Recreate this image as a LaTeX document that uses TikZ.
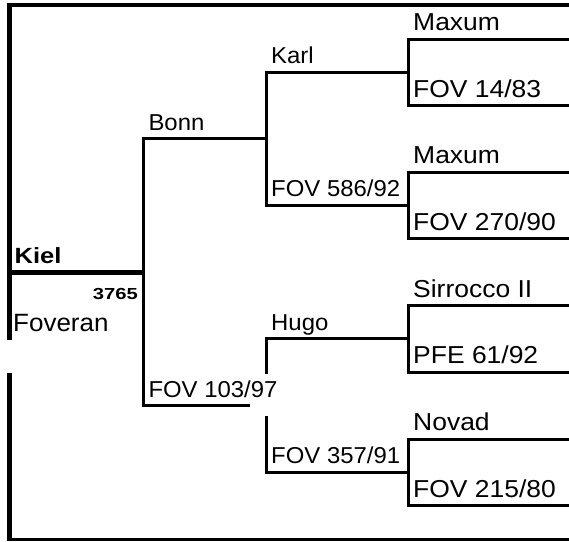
\documentclass[tikz,border=0pt]{standalone}
\usepackage{fontspec}
\setmainfont[FakeStretch=1.04]{Liberation Sans}
\newfontfamily\farfont[FakeStretch=1.08]{Liberation Sans}
\newfontfamily\kielfont[FakeStretch=1.16]{Liberation Sans}
\newfontfamily\numfont[FakeStretch=1.26]{Liberation Sans}
\usetikzlibrary{calc}

\tikzset{
  bar/.style={line width=3pt, line join=miter},
  heavy/.style={line width=4.7pt, line join=miter},
  lbl/.style={anchor=base west, inner sep=0pt, xshift=5pt, yshift=8.5pt,
    font=\fontsize{23}{27}\selectfont},
  lblfour/.style={lbl, font=\farfont\fontsize{24.5}{28}\selectfont}
}

\begin{document}
\begin{tikzpicture}[x=1pt, y=-1pt]
  \useasboundingbox (0,0) rectangle (569,541);

  % right edge of the chart
  \coordinate (edge) at (569,0);

  % start points of each line, one per horse
  \coordinate (kiel) at (9.5,272.2);
  \coordinate (bonn) at (143.3,138.7);
  \coordinate (fov103) at (143.3,405.6);
  \coordinate (karl) at (266,72.2);
  \coordinate (fov586) at (266,205.2);
  \coordinate (hugo) at (266,338.8);
  \coordinate (fov357) at (266,472.4);
  \coordinate (maxumA) at (408,39);
  \coordinate (fov14) at (408,105.5);
  \coordinate (maxumB) at (408,172);
  \coordinate (fov270) at (408,238.5);
  \coordinate (sirrocco) at (408,305.5);
  \coordinate (pfe61) at (408,372);
  \coordinate (novad) at (408,439);
  \coordinate (fov215) at (408,505.8);

  % outer frame
  \draw[heavy] (569,5) -- (9.5,5) -- (9.5,340);
  \draw[heavy] (9.5,373) -- (9.5,541);
  \draw[line width=2.5pt] (7,539.7) -- (569,539.7);

  % first generation
  \draw[heavy] (kiel) -- (kiel -| bonn);
  \draw[bar] (bonn -| karl) -- (bonn) -- (fov103) -- (fov103 -| karl);

  % second generation
  \draw[bar] (karl -| maxumA) -- (karl) -- (fov586) -- (fov586 -| maxumA);
  \draw[bar] (hugo -| maxumA) -- (hugo) -- (fov357) -- (fov357 -| maxumA);

  % third generation
  \draw[bar] (maxumA -| edge) -- (maxumA) -- (fov14) -- (fov14 -| edge);
  \draw[bar] (maxumB -| edge) -- (maxumB) -- (fov270) -- (fov270 -| edge);
  \draw[bar] (sirrocco -| edge) -- (sirrocco) -- (pfe61) -- (pfe61 -| edge);
  \draw[bar] (novad -| edge) -- (novad) -- (fov215) -- (fov215 -| edge);

  % the box of the lower Bonn label hides the line ends
  \fill[white] (250,374) rectangle (276,416);

  % names
  \node[lbl, font=\kielfont\bfseries\fontsize{22}{26}\selectfont] (t-kiel) at (kiel) {Kiel};
  \node[anchor=base east, inner sep=0pt, font=\numfont\bfseries\fontsize{16}{19}\selectfont] (t-no) at (138,299) {3765};
  \node[anchor=base west, inner sep=0pt, font=\fontsize{25}{29}\selectfont] (t-foveran) at (13,331) {Foveran};

  \node[lbl] (t-bonn) at (bonn) {Bonn};
  \node[lbl] (t-fov103) at (fov103) {FOV 103/97};
  \node[lbl] (t-karl) at (karl) {Karl};
  \node[lbl] (t-fov586) at (fov586) {FOV 586/92};
  \node[lbl] (t-hugo) at (hugo) {Hugo};
  \node[lbl] (t-fov357) at (fov357) {FOV 357/91};

  \node[lblfour] (t-maxumA) at (maxumA) {Maxum};
  \node[lblfour] (t-fov14) at (fov14) {FOV 14/83};
  \node[lblfour] (t-maxumB) at (maxumB) {Maxum};
  \node[lblfour] (t-fov270) at (fov270) {FOV 270/90};
  \node[lblfour] (t-sirrocco) at (sirrocco) {Sirrocco II};
  \node[lblfour] (t-pfe61) at (pfe61) {PFE 61/92};
  \node[lblfour] (t-novad) at (novad) {Novad};
  \node[lblfour] (t-fov215) at (fov215) {FOV 215/80};
\end{tikzpicture}
\end{document}
